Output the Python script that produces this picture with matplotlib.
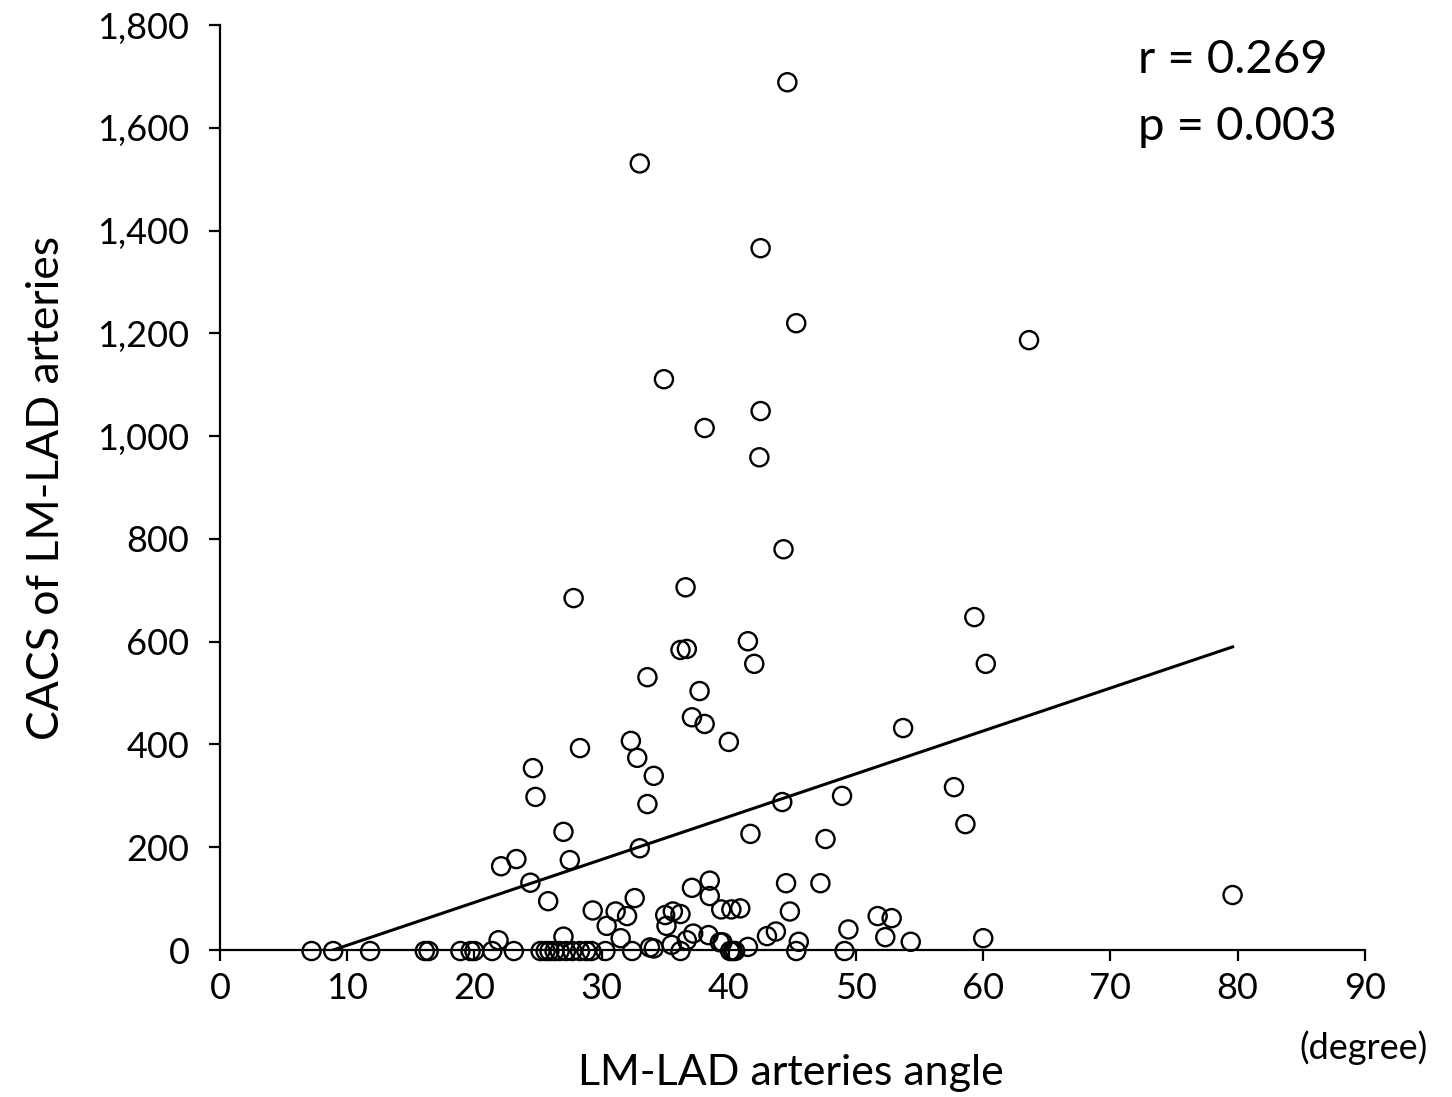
import matplotlib.pyplot as plt
from matplotlib.ticker import FuncFormatter

# LM-LAD angle (degree) vs CACS
angle_upper = [44.6, 33.0, 42.5, 45.3, 63.6, 34.9, 42.5, 38.1, 42.4, 44.3,
               36.6, 27.8, 59.3, 41.5, 36.2, 36.7, 60.2, 42.0, 33.6, 37.7,
               37.1, 38.1, 53.7, 32.3, 40.0, 28.3, 32.8, 24.6, 34.1, 57.7,
               24.8, 48.9, 44.2, 33.6, 58.6, 27.0, 41.7, 47.6, 33.0, 27.5,
               23.3, 22.1, 79.6]
cacs_upper = [1689, 1531, 1366, 1220, 1187, 1111, 1049, 1016, 959, 780,
              706, 685, 648, 601, 584, 586, 557, 557, 531, 504,
              453, 440, 432, 407, 405, 393, 374, 354, 339, 317,
              298, 300, 288, 284, 245, 230, 226, 216, 198, 175,
              177, 163, 107]

angle_low = [24.4, 25.8, 29.3, 30.4, 31.1, 32.0, 32.6, 35.0, 35.6, 36.2,
             35.1, 31.5, 27.0, 21.9, 37.1, 38.5, 38.5, 39.4, 40.2, 40.9,
             44.5, 47.2, 44.8, 37.2, 38.4, 36.7, 43.0, 43.7, 45.5, 49.4,
             51.7, 52.8, 52.3, 54.3, 60.0, 33.8, 34.1, 35.5, 39.3, 39.5,
             41.5]
cacs_low = [131, 95, 77, 47, 75, 66, 101, 68, 75, 70,
            47, 23, 26, 19, 121, 135, 105, 79, 79, 81,
            130, 130, 75, 32, 29, 19, 27, 36, 16, 40,
            66, 62, 25, 16, 23, 5, 3, 10, 15, 15,
            6]

angle_zero = [7.2, 8.9, 11.8, 16.1, 16.4, 18.9, 19.7, 20.0, 21.4, 23.1,
              25.2, 25.6, 25.9, 26.3, 26.7, 27.2, 27.7, 28.3, 28.8, 29.2,
              30.3, 32.4, 36.2, 40.1, 40.3, 40.5, 45.3, 49.1]
cacs_zero = [-2] * len(angle_zero)

# regression line end points
fit_x = [8.9, 79.6]
fit_y = [0, 590]

yticks = [0, 200, 400, 600, 800, 1000, 1200, 1400, 1600, 1800]
xticks = [0, 10, 20, 30, 40, 50, 60, 70, 80, 90]

plt.rcParams['font.family'] = ['Lato', 'DejaVu Sans']

fig = plt.figure(figsize=(14.52, 10.97), dpi=100)
ax = fig.add_axes([0.1515, 0.134, 0.7885, 0.843])

x_all = angle_upper + angle_low + angle_zero
y_all = cacs_upper + cacs_low + cacs_zero
ax.plot(fit_x, fit_y, color='black', lw=2.2, zorder=2)
ax.scatter(x_all, y_all, s=170, facecolors='none', edgecolors='black',
           linewidths=1.7, zorder=3, clip_on=False)

ax.set_xlim(0, 90)
ax.set_ylim(0, 1800)
ax.set_xticks(xticks)
ax.set_yticks(yticks)
ax.yaxis.set_major_formatter(FuncFormatter(lambda v, p: f"{int(v):,}"))
for s in ['top', 'right']:
    ax.spines[s].set_visible(False)
for s in ['left', 'bottom']:
    ax.spines[s].set_linewidth(1.6)
ax.tick_params(axis='both', labelsize=26, width=1.6, length=8, direction='out')
ax.tick_params(axis='y', pad=14)
ax.tick_params(axis='x', pad=8)

ax.set_ylabel("CACS of LM-LAD arteries", fontsize=32, labelpad=22)
fig.text(0.545, 0.022, "LM-LAD arteries angle", fontsize=31, ha='center', va='center')
fig.text(0.939, 0.045, "(degree)", fontsize=26, ha='center', va='center')

ax.text(0.802, 0.962, "r = 0.269", transform=ax.transAxes, fontsize=34, va='center')
ax.text(0.802, 0.89, "p = 0.003", transform=ax.transAxes, fontsize=34, va='center')

fig.savefig("out.png", dpi=100)
